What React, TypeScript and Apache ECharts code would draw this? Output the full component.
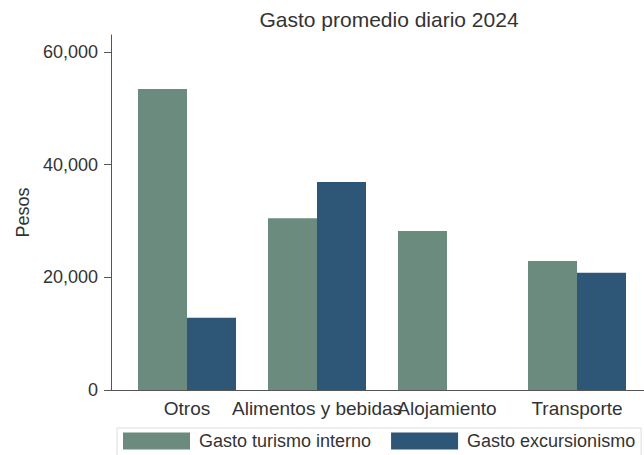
import React, { useEffect, useRef } from "react";
import * as echarts from "echarts";

const categories = ["Otros", "Alimentos y bebidas", "Alojamiento", "Transporte"];
const seriesNames = ["Gasto turismo interno", "Gasto excursionismo"];
const turismoInterno = [53400, 30500, 28200, 22900];
const excursionismo: (number | null)[] = [12800, 36900, null, 20800];
const yTicks = [0, 20000, 40000, 60000];

const FONT = "'Liberation Sans', Arial, sans-serif";
const TEXT = "#333333";
const AXIS = "#555555";

export default function App() {
  const ref = useRef<HTMLDivElement>(null);
  useEffect(() => {
    if (!ref.current) return;
    const chart = echarts.init(ref.current, null, { renderer: "svg" });
    chart.setOption({
      animation: false,
      backgroundColor: "#ffffff",
      textStyle: { fontFamily: FONT },
      title: {
        text: "Gasto promedio diario 2024",
        left: 384,
        top: 4,
        textAlign: "center",
        textStyle: { fontFamily: FONT, fontSize: 21, fontWeight: "normal", color: TEXT },
      },
      grid: { left: 122, right: 2, top: 35, bottom: 65, containLabel: false },
      legend: {
        data: seriesNames,
        left: 117,
        top: 428,
        width: 640,
        icon: "rect",
        itemWidth: 67,
        itemHeight: 17,
        itemGap: 20,
        padding: [4, 6, 8, 6],
        borderColor: "#dddddd",
        borderWidth: 1,
        textStyle: { fontFamily: FONT, fontSize: 18, color: TEXT, padding: [0, 0, 0, 4] },
      },
      xAxis: {
        type: "category",
        data: categories,
        axisLine: { show: false },
        axisTick: { show: false },
        axisLabel: { fontFamily: FONT, fontSize: 19, color: TEXT, margin: 9, interval: 0 },
      },
      yAxis: {
        type: "value",
        min: 0,
        max: 63000,
        offset: 11,
        name: "Pesos",
        nameLocation: "middle",
        nameGap: 73,
        nameTextStyle: { fontFamily: FONT, fontSize: 18, color: TEXT },
        splitLine: { show: false },
        axisLine: { show: true, lineStyle: { color: AXIS, width: 1 } },
        axisTick: { show: true, length: 7, customValues: yTicks, lineStyle: { color: AXIS } },
        axisLabel: {
          fontFamily: FONT,
          fontSize: 18,
          color: TEXT,
          margin: 13,
          customValues: yTicks,
          formatter: (v: number) => v.toLocaleString("en-US"),
        },
      },
      graphic: [
        {
          type: "line",
          shape: { x1: 111, y1: 390.5, x2: 644, y2: 390.5 },
          style: { stroke: AXIS, lineWidth: 1 },
          z: 10,
        },
      ],
      series: [
        {
          name: seriesNames[0],
          type: "bar",
          data: turismoInterno,
          barWidth: 49,
          barGap: "0%",
          itemStyle: { color: "#6a8b7d" },
        },
        {
          name: seriesNames[1],
          type: "bar",
          data: excursionismo,
          barWidth: 49,
          barGap: "0%",
          itemStyle: { color: "#2e5677" },
        },
      ],
    });
    return () => chart.dispose();
  }, []);
  return <div ref={ref} style={{ width: 644, height: 455, position: "absolute", left: 0, top: 0 }} />;
}
